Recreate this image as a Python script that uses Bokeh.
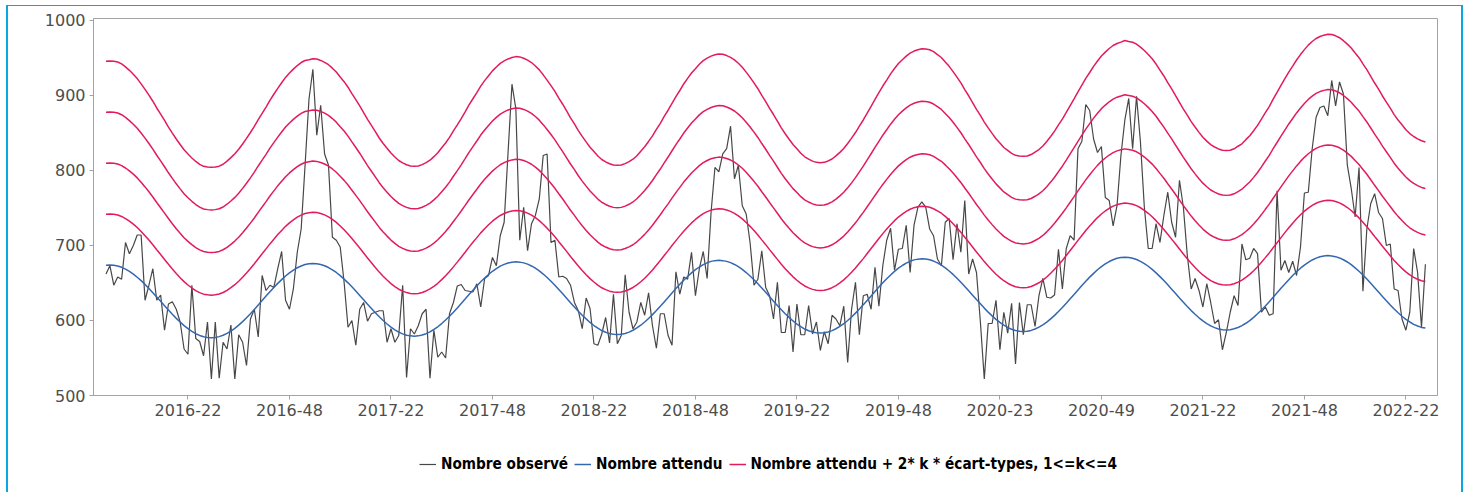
from bokeh.plotting import figure
from bokeh.layouts import column
from bokeh.models import FixedTicker, Legend, LegendItem, Range1d
from bokeh.embed import file_html
from bokeh.resources import INLINE

# Weekly counts, first week of 2016 onwards
observed = [
    662, 673, 647, 658, 655, 704, 689, 700, 714, 714,
    627, 647, 669, 627, 634, 587, 622, 625, 615, 598,
    562, 555, 647, 576, 572, 553, 598, 522, 598, 523,
    571, 562, 594, 522, 581, 571, 540, 602, 615, 578,
    660, 640, 647, 644, 669, 692, 627, 615, 642, 691,
    722, 807, 895, 935, 847, 887, 822, 807, 711, 707,
    698, 651, 591, 600, 567, 615, 624, 599, 609, 611,
    613, 613, 571, 589, 571, 580, 647, 524, 589, 582,
    593, 609, 615, 523, 587, 551, 558, 550, 609, 624,
    646, 648, 640, 639, 638, 649, 618, 656, 660, 684,
    673, 713, 731, 824, 915, 882, 707, 751, 693, 729,
    740, 762, 820, 822, 704, 707, 658, 659, 656, 647,
    624, 613, 589, 630, 616, 569, 567, 582, 604, 570,
    635, 569, 580, 661, 611, 589, 598, 624, 607, 637,
    593, 563, 609, 609, 580, 567, 665, 635, 658, 655,
    691, 633, 669, 692, 656, 744, 804, 798, 822, 829,
    859, 789, 807, 753, 742, 704, 647, 655, 693, 644,
    633, 602, 651, 584, 584, 620, 558, 622, 581, 581,
    620, 582, 598, 560, 585, 569, 607, 602, 593, 619,
    544, 615, 651, 581, 633, 635, 615, 671, 619, 673,
    707, 723, 667, 695, 696, 727, 664, 727, 751, 758,
    751, 722, 713, 682, 673, 731, 736, 681, 729, 691,
    760, 662, 682, 664, 598, 522, 596, 596, 627, 561,
    611, 583, 623, 542, 624, 581, 621, 621, 592, 633,
    656, 631, 630, 634, 695, 642, 696, 713, 707, 829,
    839, 888, 880, 842, 824, 832, 764, 760, 726, 753,
    820, 867, 896, 829, 899, 838, 751, 696, 696, 729,
    704, 740, 771, 731, 711, 787, 751, 687, 642, 656,
    640, 618, 649, 624, 596, 601, 561, 584, 611, 633,
    620, 702, 681, 683, 696, 689, 611, 618, 607, 609,
    773, 667, 680, 664, 679, 660, 698, 770, 771, 829,
    871, 884, 886, 873, 920, 886, 918, 902, 807, 776,
    738, 804, 639, 722, 756, 769, 744, 736, 700, 702,
    642, 640, 602, 587, 611, 696, 664, 591, 675,
]

# Expected weekly count (seasonal baseline)
expected = [
    673.5,
    674.0, 673.6, 672.6, 670.9, 668.5, 665.5, 661.9, 657.7, 653.1, 648.1, 642.8, 637.1, 631.3,
    625.5, 619.6, 613.9, 608.2, 602.8, 597.9, 593.2, 589.1, 585.5, 582.4, 580.1, 578.3, 577.4,
    577.0, 577.4, 578.5, 580.3, 582.8, 585.9, 589.5, 593.8, 598.5, 603.6, 609.0, 614.7, 620.6,
    626.5, 632.5, 638.3, 644.0, 649.5, 654.5, 659.3, 663.5, 667.1, 670.3, 672.7, 674.6, 675.6,
    676.1, 675.7, 674.7, 673.0, 670.6, 667.6, 664.0, 659.8, 655.2, 650.2, 644.9, 639.2, 633.4,
    627.6, 621.7, 616.0, 610.3, 604.9, 600.0, 595.3, 591.2, 587.6, 584.5, 582.2, 580.4, 579.5,
    579.1, 579.5, 580.6, 582.4, 584.9, 588.0, 591.6, 595.9, 600.6, 605.7, 611.1, 616.8, 622.7,
    628.6, 634.6, 640.4, 646.1, 651.6, 656.6, 661.4, 665.6, 669.2, 672.4, 674.8, 676.7, 677.7,
    678.2, 677.8, 676.8, 675.1, 672.7, 669.7, 666.1, 661.9, 657.3, 652.3, 647.0, 641.3, 635.5,
    629.7, 623.8, 618.1, 612.4, 607.0, 602.1, 597.4, 593.3, 589.7, 586.6, 584.3, 582.5, 581.6,
    581.2, 581.6, 582.7, 584.5, 587.0, 590.1, 593.7, 598.0, 602.7, 607.8, 613.2, 618.9, 624.8,
    630.7, 636.7, 642.5, 648.2, 653.7, 658.7, 663.5, 667.7, 671.3, 674.5, 676.9, 678.8, 679.8,
    680.2, 679.8, 678.8, 677.1, 674.7, 671.7, 668.1, 663.9, 659.3, 654.3, 649.0, 643.3, 637.5,
    631.7, 625.8, 620.1, 614.4, 609.0, 604.1, 599.4, 595.3, 591.7, 588.6, 586.3, 584.5, 583.6,
    583.2, 583.6, 584.7, 586.5, 589.0, 592.1, 595.7, 600.0, 604.7, 609.8, 615.2, 620.9, 626.8,
    632.7, 638.7, 644.5, 650.2, 655.7, 660.7, 665.5, 669.7, 673.3, 676.5, 678.9, 680.8, 681.8,
    682.3, 681.9, 680.9, 679.2, 676.8, 673.8, 670.2, 666.0, 661.4, 656.4, 651.1, 645.4, 639.6,
    633.8, 627.9, 622.2, 616.5, 611.1, 606.2, 601.5, 597.4, 593.8, 590.7, 588.4, 586.6, 585.7,
    585.3, 585.7, 586.8, 588.6, 591.1, 594.2, 597.8, 602.1, 606.8, 611.9, 617.3, 623.0, 628.9,
    634.8, 640.8, 646.6, 652.3, 657.8, 662.8, 667.6, 671.8, 675.4, 678.6, 681.0, 682.9, 683.9,
    684.4, 684.0, 683.0, 681.3, 678.9, 675.9, 672.3, 668.1, 663.5, 658.5, 653.2, 647.5, 641.7,
    635.9, 630.0, 624.3, 618.6, 613.2, 608.3, 603.6, 599.5, 595.9, 592.8, 590.5, 588.7, 587.8,
    587.4, 587.8, 588.9, 590.7, 593.2, 596.3, 599.9, 604.2, 608.9, 614.0, 619.4, 625.1, 631.0,
    636.9, 642.9, 648.7, 654.4, 659.9, 664.9, 669.7, 673.9, 677.5, 680.7, 683.1, 685.0, 686.0,
    686.5, 686.1, 685.1, 683.4, 681.0, 678.0, 674.4, 670.2, 665.6, 660.6, 655.3, 649.6, 643.8,
    638.0, 632.1, 626.4, 620.7, 615.3, 610.4, 605.7, 601.6, 598.0, 594.9, 592.6, 590.8, 589.9,
]

# Standard deviation of the weekly count
std_dev = [
    34.0,
    34.0, 34.0, 34.0, 33.9, 33.7, 33.5, 33.3, 33.1, 32.8, 32.5, 32.2, 31.9, 31.5,
    31.2, 30.9, 30.5, 30.2, 29.9, 29.6, 29.3, 29.1, 28.9, 28.7, 28.5, 28.4, 28.4,
    28.4, 28.4, 28.4, 28.5, 28.7, 28.9, 29.1, 29.3, 29.6, 29.9, 30.2, 30.5, 30.9,
    31.2, 31.5, 31.9, 32.2, 32.5, 32.8, 33.1, 33.3, 33.5, 33.7, 33.9, 34.0, 34.0,
    34.1, 34.1, 34.0, 33.9, 33.8, 33.6, 33.4, 33.1, 32.9, 32.6, 32.2, 31.9, 31.6,
    31.2, 30.8, 30.5, 30.2, 29.8, 29.5, 29.3, 29.0, 28.8, 28.6, 28.5, 28.4, 28.3,
    28.3, 28.3, 28.4, 28.5, 28.6, 28.8, 29.0, 29.3, 29.5, 29.8, 30.2, 30.5, 30.8,
    31.2, 31.6, 31.9, 32.2, 32.6, 32.9, 33.1, 33.4, 33.6, 33.8, 33.9, 34.0, 34.1,
    34.2, 34.2, 34.1, 34.0, 33.9, 33.7, 33.5, 33.2, 32.9, 32.6, 32.3, 31.9, 31.6,
    31.2, 30.8, 30.5, 30.1, 29.8, 29.5, 29.2, 29.0, 28.7, 28.5, 28.4, 28.3, 28.2,
    28.2, 28.2, 28.3, 28.4, 28.5, 28.7, 29.0, 29.2, 29.5, 29.8, 30.2, 30.5, 30.9,
    31.2, 31.6, 32.0, 32.3, 32.7, 33.0, 33.3, 33.5, 33.8, 34.0, 34.1, 34.2, 34.3,
    34.4, 34.4, 34.3, 34.2, 34.1, 33.9, 33.7, 33.4, 33.1, 32.8, 32.5, 32.1, 31.8,
    31.4, 31.1, 30.7, 30.3, 30.0, 29.7, 29.4, 29.2, 28.9, 28.7, 28.6, 28.5, 28.4,
    28.4, 28.4, 28.5, 28.6, 28.8, 29.0, 29.2, 29.5, 29.8, 30.1, 30.5, 30.8, 31.2,
    31.6, 32.0, 32.4, 32.8, 33.1, 33.5, 33.8, 34.1, 34.3, 34.5, 34.7, 34.8, 34.9,
    35.0, 35.0, 35.0, 34.9, 34.7, 34.6, 34.3, 34.1, 33.8, 33.5, 33.2, 32.8, 32.5,
    32.1, 31.7, 31.4, 31.0, 30.7, 30.4, 30.1, 29.9, 29.6, 29.5, 29.3, 29.2, 29.2,
    29.2, 29.2, 29.3, 29.5, 29.6, 29.8, 30.1, 30.4, 30.7, 31.1, 31.4, 31.8, 32.2,
    32.6, 33.0, 33.4, 33.8, 34.1, 34.5, 34.8, 35.1, 35.3, 35.5, 35.7, 35.8, 35.9,
    36.1, 36.0, 36.0, 35.9, 35.7, 35.5, 35.3, 35.1, 34.8, 34.4, 34.1, 33.7, 33.4,
    33.0, 32.6, 32.2, 31.9, 31.5, 31.2, 30.9, 30.6, 30.4, 30.2, 30.1, 30.0, 29.9,
    29.9, 29.9, 30.0, 30.2, 30.3, 30.6, 30.8, 31.1, 31.4, 31.8, 32.2, 32.5, 33.0,
    33.4, 33.8, 34.2, 34.6, 34.9, 35.3, 35.6, 35.9, 36.2, 36.4, 36.6, 36.7, 36.8,
    36.9, 36.9, 36.8, 36.7, 36.5, 36.3, 36.1, 35.8, 35.6, 35.2, 34.9, 34.5, 34.1,
    33.8, 33.4, 33.1, 32.8, 32.4, 32.1, 31.9, 31.6, 31.4, 31.3, 31.2, 31.1, 31.0,
]

tick_weeks = [21, 47, 73, 99, 125, 151, 177, 203, 229, 255, 281, 307, 333]
tick_labels = ["2016-22", "2016-48", "2017-22", "2017-48", "2018-22", "2018-48",
               "2019-22", "2019-48", "2020-23", "2020-49", "2021-22", "2021-48", "2022-22"]
y_ticks = [500, 600, 700, 800, 900, 1000]
k_values = [1, 2, 3, 4]
series_names = ["Nombre observé", "Nombre attendu",
                "Nombre attendu + 2* k * écart-types, 1<=k<=4"]

assert len(observed) == len(expected) == len(std_dev), (len(observed), len(expected), len(std_dev))
weeks = list(range(len(observed)))
bands = {k: [e + 2 * k * s for e, s in zip(expected, std_dev)] for k in k_values}

GREY = "#474747"
BLUE = "#3467b0"
PINK = "#e31a5c"
CYAN = "#0aa6df"
AXIS = "#a3a3a3"
WIDTH = 1453
LEFT, RIGHT = 85, 24


def draw_series(fig):
    """Observed counts, baseline and the four alert thresholds."""
    r_obs = fig.line(weeks, observed, line_color=GREY, line_width=1.2)
    r_exp = fig.line(weeks, expected, line_color=BLUE, line_width=1.5)
    r_bands = [fig.line(weeks, bands[k], line_color=PINK, line_width=1.5) for k in k_values]
    return [r_obs, r_exp, r_bands[0]]


# ---- main chart -------------------------------------------------------
p = figure(
    width=WIDTH, height=424,
    output_backend="svg", toolbar_location=None,
    x_range=Range1d(-3.2, 341.1), y_range=Range1d(500, 1002.6),
    min_border_left=LEFT, min_border_right=RIGHT, min_border_top=12, min_border_bottom=35,
    background_fill_color="white", border_fill_color="white",
)
p.outline_line_color = AXIS
p.outline_line_width = 1
p.xgrid.visible = False
p.ygrid.visible = False

for ax in (p.xaxis[0], p.yaxis[0]):
    ax.axis_line_color = AXIS
    ax.major_tick_line_color = AXIS
    ax.major_tick_out = 4
    ax.major_tick_in = 0
    ax.minor_tick_line_color = None
    ax.major_label_text_font = "DejaVu Sans"
    ax.major_label_text_font_size = "16px"
    ax.major_label_text_color = "#4d4d4d"
    ax.major_label_standoff = 4

p.xaxis.ticker = FixedTicker(ticks=tick_weeks)
p.xaxis.major_label_overrides = {w: lab for w, lab in zip(tick_weeks, tick_labels)}
p.yaxis.ticker = FixedTicker(ticks=y_ticks)

draw_series(p)

# ---- legend strip under the chart --------------------------------------
# Same series, drawn against a range that keeps them out of view, so the
# strip only shows the legend keys.
leg = figure(
    width=WIDTH, height=62,
    output_backend="svg", toolbar_location=None,
    x_axis_location=None, y_axis_location=None,
    x_range=Range1d(-3.2, 341.1), y_range=Range1d(0, 1),
    min_border_left=LEFT, min_border_right=RIGHT, min_border_top=0, min_border_bottom=0,
    outline_line_color=None,
    background_fill_color="white", border_fill_color="white",
)
leg.xgrid.visible = False
leg.ygrid.visible = False
keys = draw_series(leg)

legend = Legend(
    items=[LegendItem(label=name, renderers=[r]) for name, r in zip(series_names, keys)],
    orientation="horizontal",
    location=(326, 19),
    padding=0, margin=0, spacing=6,
    label_standoff=5, glyph_width=17, glyph_height=16, label_height=16,
    border_line_color=None, background_fill_alpha=0,
    label_text_font="DejaVu Sans Condensed",
    label_text_font_style="bold",
    label_text_font_size="15.2px",
    label_text_color="black",
)
leg.add_layout(legend)

page = column(
    p, leg, spacing=0,
    styles={
        "box-sizing": "content-box",
        "margin-left": "6px",
        "margin-top": "5px",
        "border-left": f"2px solid {CYAN}",
        "border-right": f"2px solid {CYAN}",
        "border-top": f"1px solid {CYAN}",
    },
)

open("out.html", "w").write(file_html(page, INLINE, title="Nombre observé"))
